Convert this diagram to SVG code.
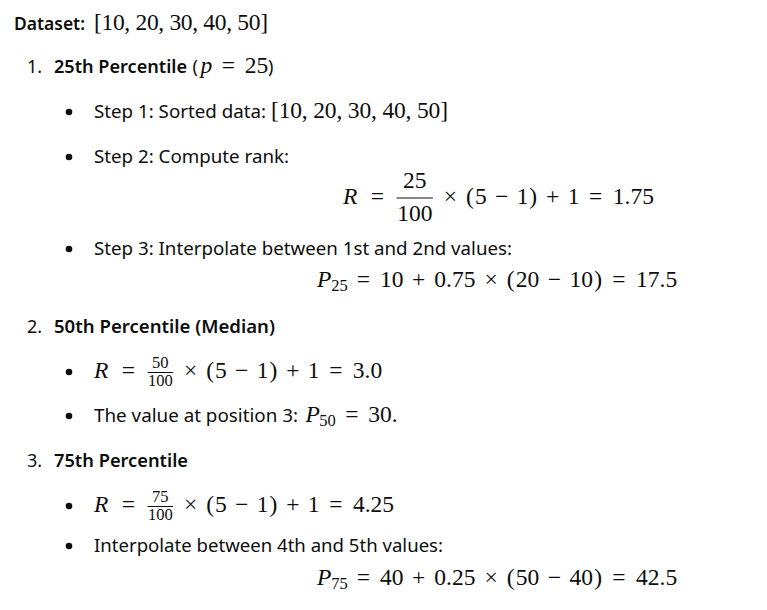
<svg xmlns="http://www.w3.org/2000/svg" width="767" height="610" viewBox="0 0 767 610">
<style>
text{fill:#0d0d0d}
.t{font-family:"Noto Sans","Open Sans",sans-serif;font-size:18px}
.b{font-family:"Noto Sans","Open Sans",sans-serif;font-size:18px;font-weight:600}
.m{font-family:"Liberation Serif","DejaVu Serif",serif;font-size:23.5px;text-anchor:middle}
.ml{font-family:"Liberation Serif","DejaVu Serif",serif;font-size:23.5px}
.mi{font-family:"Liberation Serif","DejaVu Serif",serif;font-size:23.5px;font-style:italic}
.ms{font-family:"Liberation Serif","DejaVu Serif",serif;font-size:16.5px;text-anchor:middle}
.fl{stroke:#0d0d0d;stroke-width:1}
.dot{fill:#0d0d0d}
</style>
<rect width="767" height="610" fill="#ffffff"/>

<g id="dataset">
<text class="b" x="14" y="30" textLength="71" lengthAdjust="spacingAndGlyphs">Dataset:</text>
<text class="ml" x="94" y="30" textLength="174" lengthAdjust="spacing">[10, 20, 30, 40, 50]</text>
</g>

<g id="p25">
<text class="t" x="27" y="73">1.</text>
<text class="b" x="54" y="73" textLength="133" lengthAdjust="spacingAndGlyphs">25th Percentile</text>
<text class="t" x="192.5" y="73">(</text>
<text class="mi" x="200.5" y="73">p</text>
<text class="m" x="228.3" y="73">=</text>
<text class="m" x="256.5" y="73">25</text>
<text class="t" x="268" y="73">)</text>

<circle class="dot" cx="69" cy="112" r="3.3"/>
<text class="t" x="94" y="118" textLength="172" lengthAdjust="spacingAndGlyphs">Step 1: Sorted data:</text>
<text class="ml" x="271" y="118" textLength="177" lengthAdjust="spacing">[10, 20, 30, 40, 50]</text>

<circle class="dot" cx="69" cy="157" r="3.3"/>
<text class="t" x="94" y="163" textLength="195" lengthAdjust="spacingAndGlyphs">Step 2: Compute rank:</text>

<text class="mi" x="343" y="204">R</text>
<text class="m" x="377.5" y="204">=</text>
<text class="m" x="414.8" y="188">25</text>
<line class="fl" x1="396.6" y1="198" x2="432.9" y2="198"/>
<text class="m" x="414.8" y="221">100</text>
<text class="m" x="450.5" y="204">×</text>
<text class="m" x="470" y="204">(</text>
<text class="m" x="480.8" y="204">5</text>
<text class="m" x="501.6" y="204">−</text>
<text class="m" x="522.5" y="204">1</text>
<text class="m" x="533.2" y="204">)</text>
<text class="m" x="552.7" y="204">+</text>
<text class="m" x="573.6" y="204">1</text>
<text class="m" x="595.7" y="204">=</text>
<text class="m" x="633.4" y="204">1.75</text>

<circle class="dot" cx="69" cy="249" r="3.3"/>
<text class="t" x="94" y="255" textLength="418" lengthAdjust="spacingAndGlyphs">Step 3: Interpolate between 1st and 2nd values:</text>

<text class="mi" x="317" y="287">P</text>
<text class="ms" x="339.5" y="291">25</text>
<text class="m" x="363.5" y="287">=</text>
<text class="m" x="391.7" y="287">10</text>
<text class="m" x="418.6" y="287">+</text>
<text class="m" x="454.9" y="287">0.75</text>
<text class="m" x="491.2" y="287">×</text>
<text class="m" x="510.7" y="287">(</text>
<text class="m" x="527.5" y="287">20</text>
<text class="m" x="554.4" y="287">−</text>
<text class="m" x="581.3" y="287">10</text>
<text class="m" x="598.1" y="287">)</text>
<text class="m" x="618.9" y="287">=</text>
<text class="m" x="656.6" y="287">17.5</text>
</g>

<g id="p50">
<text class="t" x="27" y="333">2.</text>
<text class="b" x="54" y="333" textLength="221" lengthAdjust="spacingAndGlyphs">50th Percentile (Median)</text>

<circle class="dot" cx="69" cy="372" r="3.3"/>
<text class="mi" x="94" y="378">R</text>
<text class="m" x="128.5" y="378">=</text>
<text class="ms" x="160.3" y="368">50</text>
<line class="fl" x1="147.6" y1="372.5" x2="173" y2="372.5"/>
<text class="ms" x="160.3" y="386">100</text>
<text class="m" x="190.7" y="378">×</text>
<text class="m" x="210.1" y="378">(</text>
<text class="m" x="220.9" y="378">5</text>
<text class="m" x="241.7" y="378">−</text>
<text class="m" x="262.6" y="378">1</text>
<text class="m" x="273.3" y="378">)</text>
<text class="m" x="292.8" y="378">+</text>
<text class="m" x="313.7" y="378">1</text>
<text class="m" x="335.9" y="378">=</text>
<text class="m" x="367.5" y="378">3.0</text>

<circle class="dot" cx="69" cy="416" r="3.3"/>
<text class="t" x="94" y="422" textLength="204" lengthAdjust="spacingAndGlyphs">The value at position 3:</text>
<text class="mi" x="305.5" y="422">P</text>
<text class="ms" x="327.5" y="426">50</text>
<text class="m" x="352" y="422">=</text>
<text class="m" x="383" y="422">30.</text>
</g>

<g id="p75">
<text class="t" x="27" y="467">3.</text>
<text class="b" x="54" y="467" textLength="134" lengthAdjust="spacingAndGlyphs">75th Percentile</text>

<circle class="dot" cx="69" cy="506" r="3.3"/>
<text class="mi" x="94" y="512">R</text>
<text class="m" x="128.5" y="512">=</text>
<text class="ms" x="160.3" y="502">75</text>
<line class="fl" x1="147.6" y1="506.5" x2="173" y2="506.5"/>
<text class="ms" x="160.3" y="520">100</text>
<text class="m" x="190.7" y="512">×</text>
<text class="m" x="210.1" y="512">(</text>
<text class="m" x="220.9" y="512">5</text>
<text class="m" x="241.7" y="512">−</text>
<text class="m" x="262.6" y="512">1</text>
<text class="m" x="273.3" y="512">)</text>
<text class="m" x="292.8" y="512">+</text>
<text class="m" x="313.7" y="512">1</text>
<text class="m" x="335.9" y="512">=</text>
<text class="m" x="373.5" y="512">4.25</text>

<circle class="dot" cx="69" cy="546" r="3.3"/>
<text class="t" x="94" y="552" textLength="349" lengthAdjust="spacingAndGlyphs">Interpolate between 4th and 5th values:</text>

<text class="mi" x="317" y="585">P</text>
<text class="ms" x="339.5" y="589">75</text>
<text class="m" x="363.5" y="585">=</text>
<text class="m" x="391.7" y="585">40</text>
<text class="m" x="418.6" y="585">+</text>
<text class="m" x="454.9" y="585">0.25</text>
<text class="m" x="491.2" y="585">×</text>
<text class="m" x="510.7" y="585">(</text>
<text class="m" x="527.5" y="585">50</text>
<text class="m" x="554.4" y="585">−</text>
<text class="m" x="581.3" y="585">40</text>
<text class="m" x="598.1" y="585">)</text>
<text class="m" x="618.9" y="585">=</text>
<text class="m" x="656.6" y="585">42.5</text>
</g>
</svg>
